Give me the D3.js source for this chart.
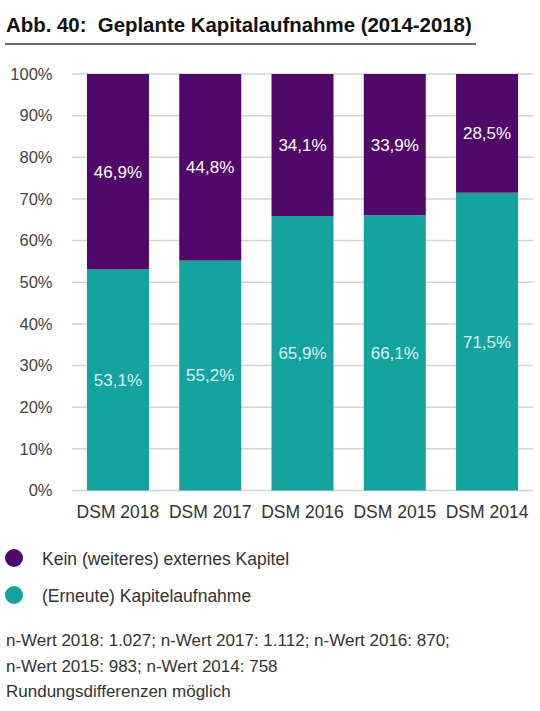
<!DOCTYPE html>
<html>
<head>
<meta charset="utf-8">
<script src="https://cdn.jsdelivr.net/npm/d3@7"></script>
<style>
  html, body { margin: 0; padding: 0; background: #fff; }
  svg { display: block; font-family: "Liberation Sans", Arial, sans-serif; }
</style>
</head>
<body>
<div id="chart"></div>
<script>
// Daten
const categories = ['DSM 2018', 'DSM 2017', 'DSM 2016', 'DSM 2015', 'DSM 2014'];
const kapitalaufnahme = [53.1, 55.2, 65.9, 66.1, 71.5];
const keinKapital = [46.9, 44.8, 34.1, 33.9, 28.5];
const yTicks = [0, 10, 20, 30, 40, 50, 60, 70, 80, 90, 100];
const seriesNames = ['Kein (weiteres) externes Kapitel', '(Erneute) Kapitelaufnahme'];
const seriesColors = ['#500968', '#14a39e'];
const labelColors = ['#ffffff', '#dcf3f1'];
const footnotes = [
    'n-Wert 2018: 1.027; n-Wert 2017: 1.112; n-Wert 2016: 870;',
    'n-Wert 2015: 983; n-Wert 2014: 758',
    'Rundungsdifferenzen möglich'
];

const width = 540, height = 711;

const svg = d3.select('#chart')
    .append('svg')
    .attr('width', width)
    .attr('height', height);

// Titel
svg.append('text')
    .attr('x', 6)
    .attr('y', 32)
    .attr('font-size', 20.4)
    .attr('font-weight', 'bold')
    .attr('fill', '#111')
    .text('Abb. 40:  Geplante Kapitalaufnahme (2014-2018)')
    .style('white-space', 'pre');

svg.append('line')
    .attr('x1', 5).attr('x2', 476)
    .attr('y1', 44).attr('y2', 44)
    .attr('stroke', '#6b6b6b')
    .attr('stroke-width', 2);

// Skalen
const x = d3.scaleBand()
    .domain(categories)
    .range([72, 533])
    .paddingInner(0.328)
    .paddingOuter(0.162);

const y = d3.scaleLinear()
    .domain([0, 100])
    .range([490.5, 74]);

// Gitterlinien
svg.append('g')
    .selectAll('line')
    .data(yTicks)
    .join('line')
    .attr('x1', 72).attr('x2', 533)
    .attr('y1', d => y(d)).attr('y2', d => y(d))
    .attr('stroke', '#d4d4d4')
    .attr('stroke-width', 1.5);

// Y-Achse
const yAxis = svg.append('g')
    .attr('transform', 'translate(52.5,0)')
    .call(d3.axisLeft(y).tickValues(yTicks).tickSize(0).tickPadding(0).tickFormat(d => d + '%'));
yAxis.select('.domain').remove();
yAxis.selectAll('text')
    .attr('font-size', 16.5)
    .attr('fill', '#444')
    .attr('font-family', '"Liberation Sans", Arial, sans-serif');

// X-Achse
const xAxis = svg.append('g')
    .attr('transform', `translate(0,${y(0)})`)
    .call(d3.axisBottom(x).tickSize(0).tickPadding(15));
xAxis.select('.domain').remove();
xAxis.selectAll('text')
    .attr('font-size', 17.5)
    .attr('fill', '#333')
    .attr('font-family', '"Liberation Sans", Arial, sans-serif');

// gestapelte Balken
const rows = categories.map((c, i) => ({ cat: c, kap: kapitalaufnahme[i], kein: keinKapital[i] }));
const stacked = d3.stack().keys(['kap', 'kein'])(rows);
const seriesIdx = { kap: 1, kein: 0 };

const layers = svg.append('g')
    .selectAll('g')
    .data(stacked)
    .join('g')
    .attr('fill', d => seriesColors[seriesIdx[d.key]]);

layers.selectAll('rect')
    .data(d => d)
    .join('rect')
    .attr('x', d => x(d.data.cat))
    .attr('width', x.bandwidth())
    .attr('y', d => y(Math.min(d[1], 100)))
    .attr('height', d => y(d[0]) - y(Math.min(d[1], 100)));

// Beschriftungen
layers.selectAll('text')
    .data(d => d.map(v => ({ v, key: d.key })))
    .join('text')
    .attr('x', d => x(d.v.data.cat) + x.bandwidth() / 2)
    .attr('y', d => (y(d.v[0]) + y(Math.min(d.v[1], 100))) / 2)
    .attr('dy', '0.35em')
    .attr('text-anchor', 'middle')
    .attr('font-size', 17)
    .attr('fill', d => labelColors[seriesIdx[d.key]])
    .text(d => d3.format('.1f')(d.v.data[d.key]).replace('.', ',') + '%');

// Legende
const legend = svg.append('g')
    .selectAll('g')
    .data(seriesNames)
    .join('g')
    .attr('transform', (d, i) => `translate(0,${558 + i * 37})`);

legend.append('circle')
    .attr('cx', 14)
    .attr('cy', 0)
    .attr('r', 9)
    .attr('fill', (d, i) => seriesColors[i]);

legend.append('text')
    .attr('x', 42)
    .attr('y', 7)
    .attr('font-size', 17.5)
    .attr('fill', '#333')
    .text(d => d);

// Fußnoten
svg.append('g')
    .selectAll('text')
    .data(footnotes)
    .join('text')
    .attr('x', 6)
    .attr('y', (d, i) => 646 + i * 25.5)
    .attr('font-size', 17)
    .attr('fill', '#333')
    .text(d => d);
</script>
</body>
</html>
